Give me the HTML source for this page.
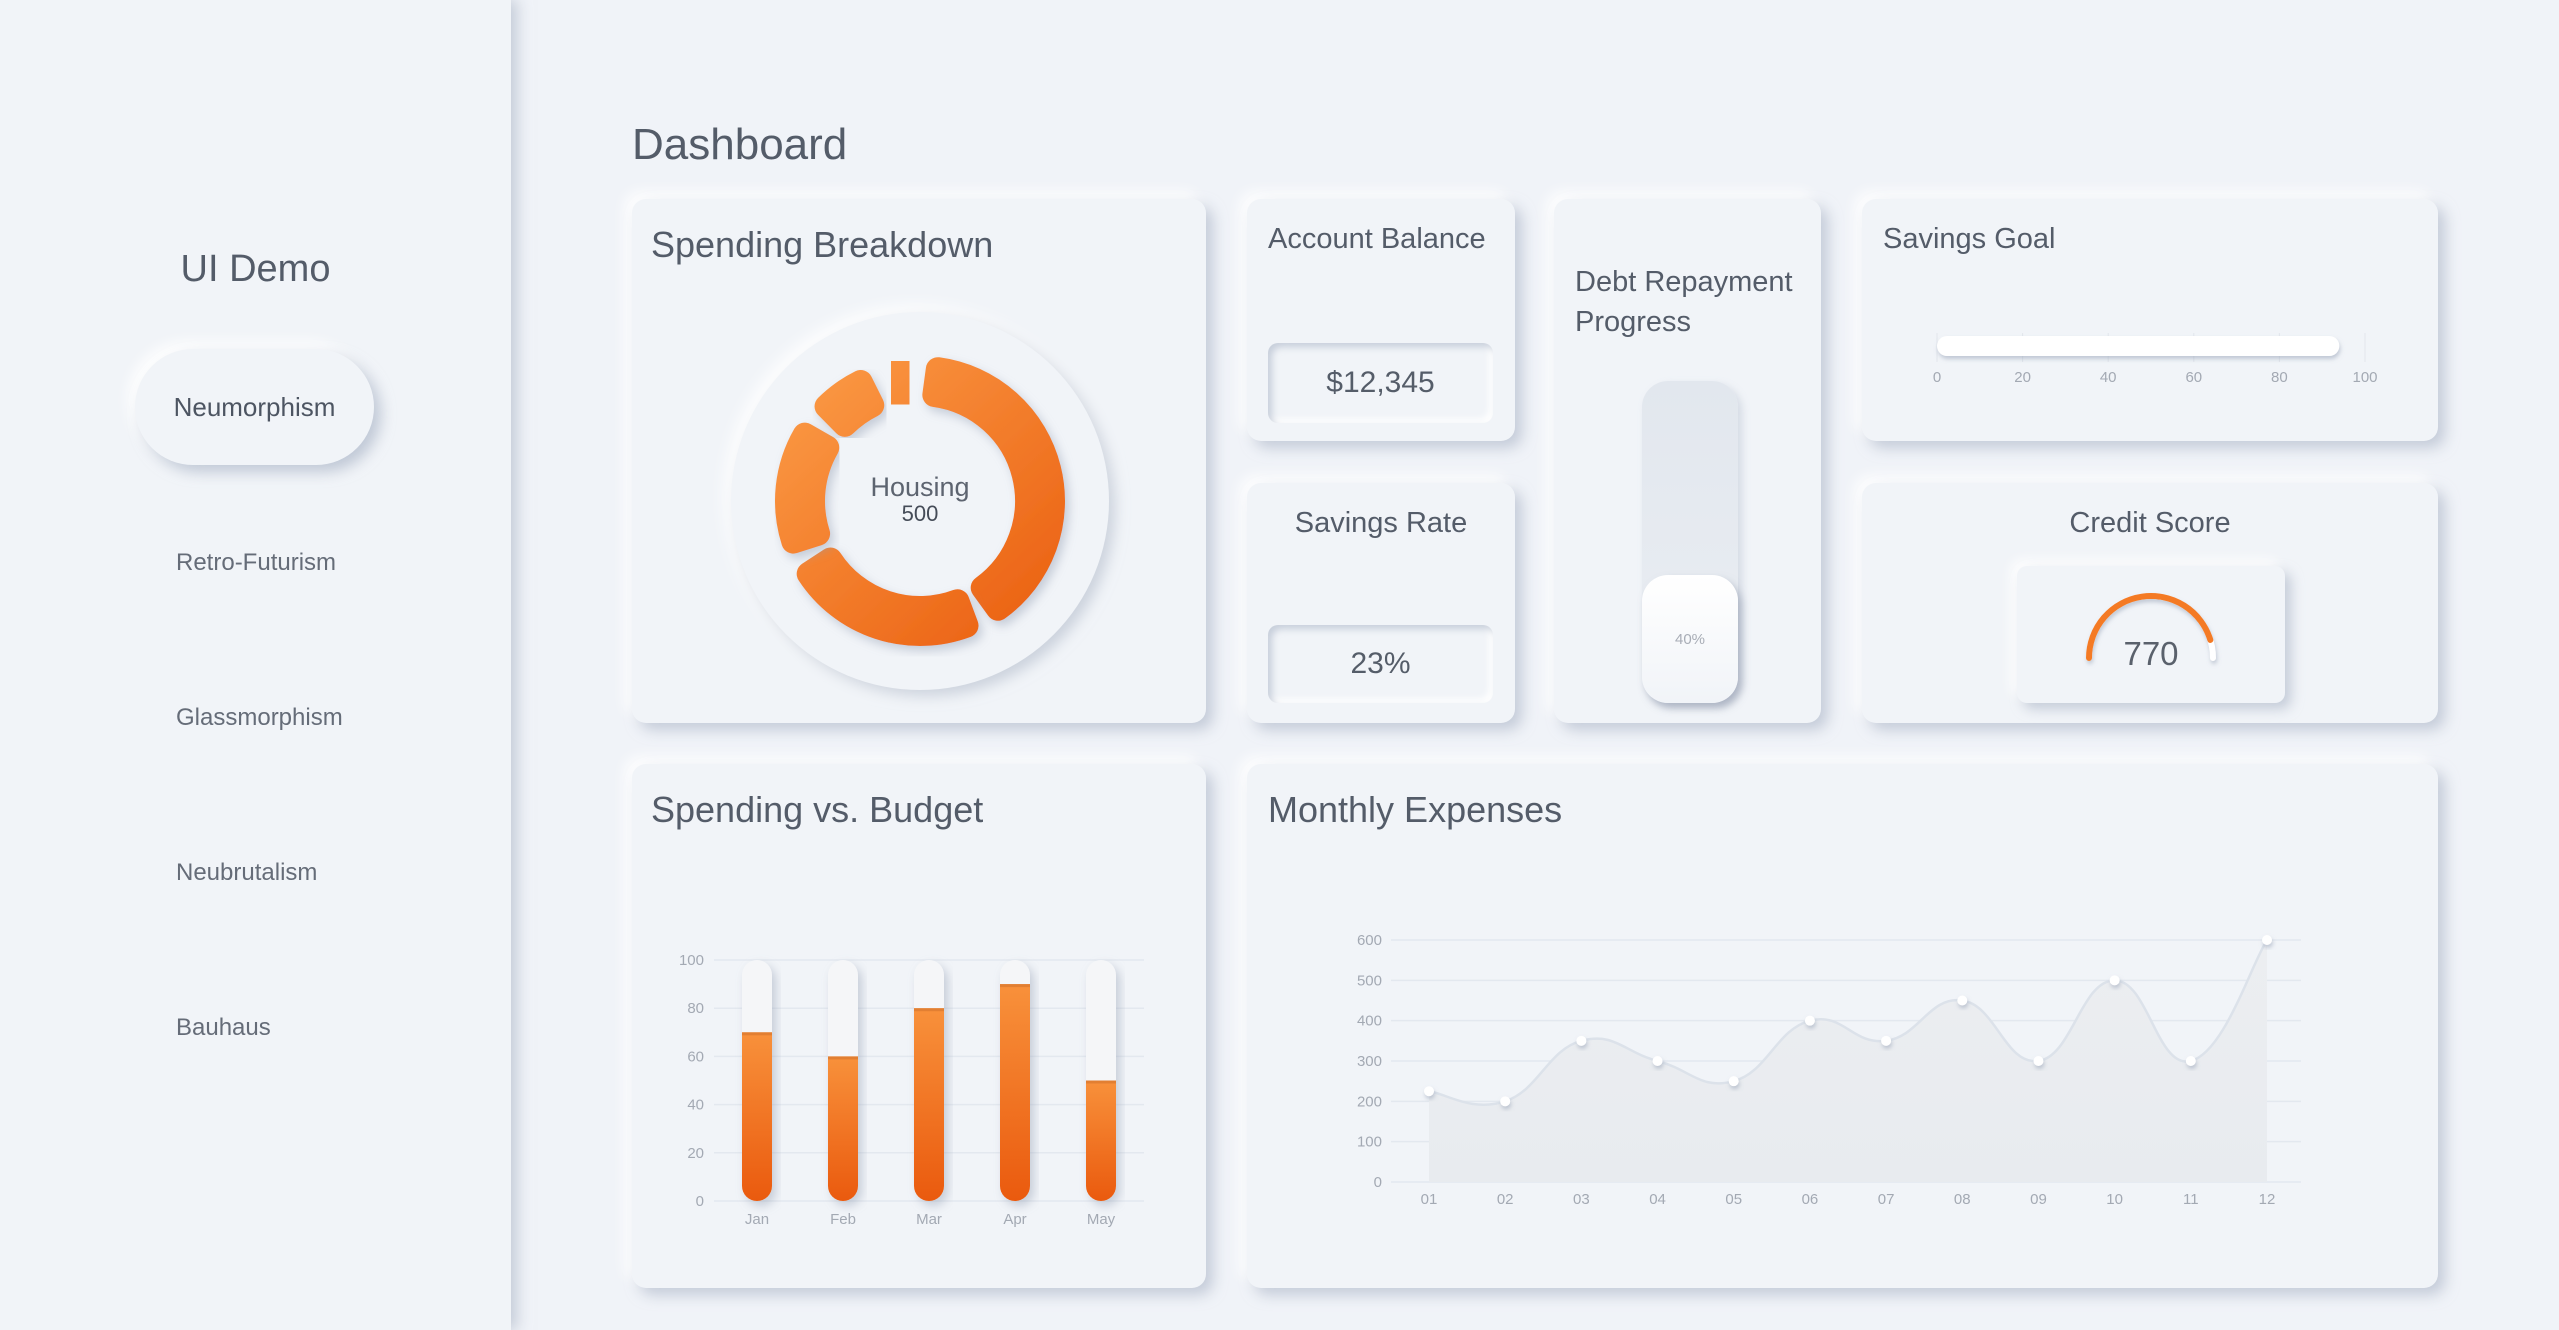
<!DOCTYPE html>
<html><head><meta charset="utf-8">
<style>
*{box-sizing:border-box;margin:0;padding:0}
body{width:2559px;height:1330px;background:#f0f3f8;font-family:"Liberation Sans",sans-serif;color:#4d5562;position:relative;overflow:hidden}
.abs{position:absolute}
.sidebar{left:0;top:0;width:511px;height:1330px;background:#f1f4f8;box-shadow:6px 0 14px rgba(160,172,190,.55)}
.card{position:absolute;background:#f1f4f8;border-radius:14px;box-shadow:7px 7px 14px rgba(160,172,192,.55),-7px -7px 14px rgba(255,255,255,.95)}
.title{position:absolute;font-size:36px;color:#545c69;white-space:nowrap}
.t2{font-size:29px}
.inset{position:absolute;border-radius:10px;box-shadow:inset 4px 4px 7px rgba(160,172,192,.5),inset -4px -4px 7px rgba(255,255,255,.95);display:flex;align-items:center;justify-content:center;font-size:30px;color:#555d69}
.nav{position:absolute;left:176px;font-size:24px;color:#656c78;transform:translateY(-50%)}
</style></head><body>
<div class="abs sidebar"></div>
<div class="abs" style="left:0;width:511px;top:248px;text-align:center;font-size:38px;color:#545c69">UI Demo</div>
<div class="abs" style="left:135px;top:349px;width:239px;height:116px;border-radius:58px;background:#f1f4f8;box-shadow:7px 7px 14px rgba(160,172,192,.6),-7px -7px 14px rgba(255,255,255,.95);display:flex;align-items:center;justify-content:center;font-size:26px;color:#4d5562">Neumorphism</div>
<div class="nav" style="top:563px">Retro-Futurism</div>
<div class="nav" style="top:718px">Glassmorphism</div>
<div class="nav" style="top:873px">Neubrutalism</div>
<div class="nav" style="top:1028px">Bauhaus</div>

<div class="abs" style="left:632px;top:120px;font-size:44px;color:#545c69">Dashboard</div>

<div class="card" style="left:632px;top:199px;width:574px;height:524px"></div>
<div class="title" style="left:651px;top:224px">Spending Breakdown</div>

<div class="card" style="left:1247px;top:199px;width:268px;height:242px"></div>
<div class="title t2" style="left:1268px;top:223px">Account Balance</div>
<div class="inset" style="left:1268px;top:343px;width:225px;height:80px">$12,345</div>

<div class="card" style="left:1247px;top:483px;width:268px;height:240px"></div>
<div class="title t2" style="left:1247px;width:268px;text-align:center;top:507px">Savings Rate</div>
<div class="inset" style="left:1268px;top:625px;width:225px;height:78px">23%</div>

<div class="card" style="left:1554px;top:199px;width:267px;height:524px"></div>
<div class="title t2" style="left:1575px;top:262px;line-height:40px">Debt Repayment<br>Progress</div>
<div class="abs" style="left:1642px;top:381px;width:96px;height:322px;border-radius:26px;background:linear-gradient(#e2e7ee,#eaeef3);box-shadow:4px 4px 8px rgba(160,172,192,.35)"></div>
<div class="abs" style="left:1642px;top:575px;width:96px;height:128px;border-radius:26px;background:linear-gradient(#ffffff,#f1f4f8);box-shadow:4px 5px 8px rgba(140,150,170,.55);display:flex;align-items:center;justify-content:center;font-size:15px;color:#a8adb6">40%</div>

<div class="card" style="left:1862px;top:199px;width:576px;height:242px"></div>
<div class="title t2" style="left:1883px;top:223px">Savings Goal</div>

<div class="card" style="left:1862px;top:483px;width:576px;height:240px"></div>
<div class="title t2" style="left:1862px;width:576px;text-align:center;top:507px">Credit Score</div>
<div class="abs" style="left:2017px;top:566px;width:268px;height:137px;border-radius:10px;background:#f1f4f8;box-shadow:6px 6px 12px rgba(160,172,192,.55),-6px -6px 12px rgba(255,255,255,.95)"></div>

<div class="card" style="left:632px;top:764px;width:574px;height:524px"></div>
<div class="title" style="left:651px;top:789px">Spending vs. Budget</div>

<div class="card" style="left:1247px;top:764px;width:1191px;height:524px"></div>
<div class="title" style="left:1268px;top:789px">Monthly Expenses</div>

<svg id="charts" class="abs" style="left:0;top:0" width="2559" height="1330" xmlns="http://www.w3.org/2000/svg">
<defs>
<linearGradient id="og" gradientUnits="userSpaceOnUse" x1="800" y1="370" x2="1050" y2="640"><stop offset="0" stop-color="#fb9a45"/><stop offset="1" stop-color="#ea5e10"/></linearGradient>
<linearGradient id="ogv" x1="0" y1="0" x2="0" y2="1"><stop offset="0" stop-color="#f8913b"/><stop offset="1" stop-color="#ea5a0e"/></linearGradient>
<linearGradient id="areag" x1="0" y1="0" x2="0" y2="1"><stop offset="0" stop-color="#eceef1"/><stop offset="1" stop-color="#e8ebef"/></linearGradient>
<filter id="sh" x="-30%" y="-30%" width="160%" height="160%"><feDropShadow dx="4" dy="5" stdDeviation="5" flood-color="#8f9bb0" flood-opacity=".45"/></filter>
<filter id="sh2" x="-50%" y="-50%" width="200%" height="200%"><feDropShadow dx="1" dy="3" stdDeviation="2" flood-color="#8f9bb0" flood-opacity=".5"/></filter>
<filter id="disc" x="-20%" y="-20%" width="140%" height="140%"><feDropShadow dx="6" dy="6" stdDeviation="7" flood-color="#a0acc0" flood-opacity=".55"/><feDropShadow dx="-6" dy="-6" stdDeviation="7" flood-color="#ffffff" flood-opacity=".95"/></filter>
</defs>
<g id="donut"></g>
<g id="bars"></g>
<g id="lines"></g>
<g id="goal"></g>
<g id="gauge"></g>
</svg>
<script>
const NS='http://www.w3.org/2000/svg';
function mk(tag,attrs,parent){const e=document.createElementNS(NS,tag);for(const k in attrs)e.setAttribute(k,attrs[k]);parent.appendChild(e);return e;}

// ---- Spending breakdown donut data ----
const donutCategories=['Housing','Food','Transport','Entertainment','Other'];
const donutValues=[500,300,200,100,50];
// ---- Spending vs budget data ----
const barMonths=['Jan','Feb','Mar','Apr','May'];
const barValues=[70,60,80,90,50];
const barTicks=[0,20,40,60,80,100];
// ---- Monthly expenses data ----
const lineMonths=['01','02','03','04','05','06','07','08','09','10','11','12'];
const lineValues=[225,200,350,300,250,400,350,450,300,500,300,600];
const lineTicks=[0,100,200,300,400,500,600];
// ---- Savings goal ----
const goalValue=[94];
const goalTicks=[0,20,40,60,80,100];
// ---- Credit score ----
const creditScore=[770];
const creditRange=[0,850];

// Donut
(function(){
  const g=document.getElementById('donut');
  const cx=920,cy=501;
  const d=mk('circle',{cx:cx,cy:cy,r:189,fill:'#f1f4f8',filter:'url(#disc)'},g);
  
  
  const total=donutValues.reduce((a,b)=>a+b,0);
  const gap=4,start=2,avail=360-gap*donutValues.length;
  const inset=5.7, rIn=107, rOut=133;
  const pt=(r,a)=>{const t=(a-90)*Math.PI/180;return [cx+r*Math.cos(t),cy+r*Math.sin(t)];};
  let a=start;
  donutValues.forEach((v,i)=>{
    const span=v/total*avail;
    let a0=a+inset,a1=a+span-inset;
    if(a1<=a0+1){const m=(a0+a1)/2;a0=m-0.5;a1=m+0.5;}
    const large=(a1-a0)>180?1:0;
    const p1=pt(rOut,a0),p2=pt(rOut,a1),p3=pt(rIn,a1),p4=pt(rIn,a0);
    const path=`M${p1} A${rOut},${rOut} 0 ${large} 1 ${p2} L${p3} A${rIn},${rIn} 0 ${large} 0 ${p4} Z`;
    const s=mk('path',{d:path,fill:'url(#og)',stroke:'url(#og)','stroke-width':24,'stroke-linejoin':'round',filter:'url(#sh)'},g);
    
    
    a+=span+gap;
  });
  const t1=mk('text',{x:cx,y:496,'text-anchor':'middle','font-size':27,fill:'#5d6470','font-family':'Liberation Sans, sans-serif'},g);
  t1.textContent=donutCategories[0];
  
  
  const t2=mk('text',{x:cx,y:521,'text-anchor':'middle','font-size':22,fill:'#454c58','font-family':'Liberation Sans, sans-serif'},g);
  t2.textContent=donutValues[0];
  
  
})();

// Bars
(function(){
  const g=document.getElementById('bars');
  const y0=1201,y1=960,x0=714,x1=1144,step=86,first=757,bw=30;
  const ys=v=>y0-(v-0)/100*(y0-y1);
  barTicks.forEach(t=>{
    const l=mk('line',{x1:x0,x2:x1,y1:ys(t),y2:ys(t),stroke:'#e3e8ef','stroke-width':1.5},g);
    
    
    const tx=mk('text',{x:704,y:ys(t)+5,'text-anchor':'end','font-size':15,fill:'#a3a9b3'},g);
    tx.textContent=t;
    
    
  });
  barMonths.forEach((m,i)=>{
    const cx=first+i*step,x=cx-bw/2;
    const cp=mk('clipPath',{id:'bc'+i},g);
    mk('rect',{x:x,y:ys(100),width:bw,height:ys(0)-ys(100),rx:15},cp);
    const bg=mk('rect',{x:x,y:ys(100),width:bw,height:ys(0)-ys(100),rx:15,fill:'#f5f6f8',filter:'url(#sh)'},g);
    
    
    const gg=mk('g',{'clip-path':'url(#bc'+i+')'},g);
    const f=mk('rect',{x:x,y:ys(barValues[i]),width:bw,height:ys(0)-ys(barValues[i]),fill:'url(#ogv)'},gg);
    
    
    mk('rect',{x:x,y:ys(barValues[i]),width:bw,height:3,fill:'#d9772f',opacity:.7},gg);
    const lb=mk('text',{x:cx,y:1224,'text-anchor':'middle','font-size':15,fill:'#a3a9b3'},g);
    lb.textContent=m;
    
    
  });
})();

// Line chart
(function(){
  const g=document.getElementById('lines');
  const y0=1182,y1=940,gx0=1391,gx1=2301,first=1429,step=(2267-1429)/11;
  const ys=v=>y0-v/600*(y0-y1);
  const xs=i=>first+i*step;
  lineTicks.forEach(t=>{
    const l=mk('line',{x1:gx0,x2:gx1,y1:ys(t),y2:ys(t),stroke:'#e3e8ef','stroke-width':1.5},g);
    
    
    const tx=mk('text',{x:1382,y:ys(t)+5,'text-anchor':'end','font-size':15,fill:'#a3a9b3'},g);
    tx.textContent=t;
    
    
  });
  const pts=lineValues.map((v,i)=>[xs(i),ys(v)]);
  let d=`M${pts[0][0]},${pts[0][1]}`;
  for(let i=0;i<pts.length-1;i++){
    const p0=pts[Math.max(0,i-1)],p1=pts[i],p2=pts[i+1],p3=pts[Math.min(pts.length-1,i+2)];
    const k=0.22;
    const c1=[p1[0]+(p2[0]-p0[0])*k,p1[1]+(p2[1]-p0[1])*k];
    const c2=[p2[0]-(p3[0]-p1[0])*k,p2[1]-(p3[1]-p1[1])*k];
    d+=` C${c1} ${c2} ${p2}`;
  }
  const area=mk('path',{d:d+` L${pts[pts.length-1][0]},${y0} L${pts[0][0]},${y0} Z`,fill:'url(#areag)'},g);
  
  
  const ln=mk('path',{d:d,fill:'none',stroke:'#dce2ea','stroke-width':2.5},g);
  
  
  pts.forEach((p,i)=>{
    const c=mk('circle',{cx:p[0],cy:p[1],r:5,fill:'#ffffff',filter:'url(#sh2)'},g);
    
    
    const lb=mk('text',{x:p[0],y:1204,'text-anchor':'middle','font-size':15,fill:'#a3a9b3'},g);
    lb.textContent=lineMonths[i];
    
    
  });
})();

// Savings goal
(function(){
  const g=document.getElementById('goal');
  const x0=1937,x1=2365,y=346;
  const xs=v=>x0+v/100*(x1-x0);
  goalTicks.forEach(t=>{
    const l=mk('line',{x1:xs(t),x2:xs(t),y1:333,y2:362,stroke:'#e2e6ec','stroke-width':1},g);
    
    
    const tx=mk('text',{x:xs(t),y:382,'text-anchor':'middle','font-size':15,fill:'#a3a9b3'},g);
    tx.textContent=t;
    
    
  });
  const b=mk('rect',{x:x0,y:y-10,width:xs(goalValue[0])-x0,height:20,rx:10,fill:'#ffffff',filter:'url(#sh2)'},g);
  
  
})();

// Credit gauge
(function(){
  const g=document.getElementById('gauge');
  const cx=2151,cy=658,r=62;
  const pt=a=>{const t=a*Math.PI/180;return [cx+r*Math.cos(t),cy-r*Math.sin(t)];};
  const frac=(creditScore[0]-creditRange[0])/(creditRange[1]-creditRange[0]);
  const endA=180-frac*180;
  const s=pt(180),e=pt(endA),z=pt(0);
  const bg=mk('path',{d:`M${s} A${r},${r} 0 0 1 ${z}`,fill:'none',stroke:'#ffffff','stroke-width':6,'stroke-linecap':'round',filter:'url(#sh2)'},g);
  
  
  const fg=mk('path',{d:`M${s} A${r},${r} 0 0 1 ${e}`,fill:'none',stroke:'#f47a24','stroke-width':6,'stroke-linecap':'round'},g);
  
  
  const t=mk('text',{x:cx,y:665,'text-anchor':'middle','font-size':33,fill:'#5a616c'},g);
  t.textContent=creditScore[0];
  
  
})();
</script>
</body></html>
